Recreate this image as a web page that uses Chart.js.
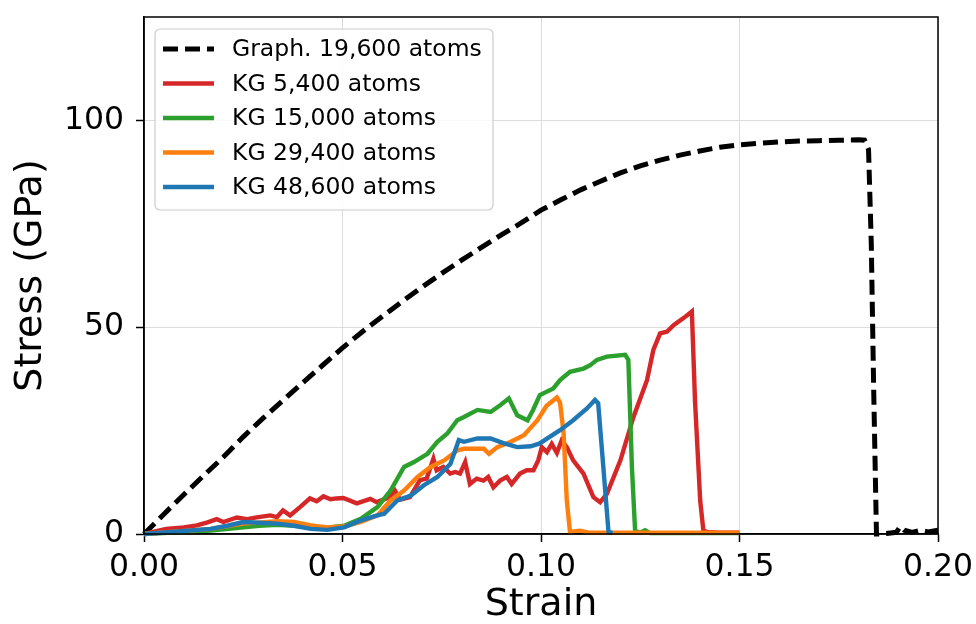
<!DOCTYPE html>
<html>
<head>
<meta charset="utf-8">
<script src="https://cdn.jsdelivr.net/npm/chart.js@4.4.1/dist/chart.umd.min.js"></script>
<style>
  body { margin: 0; background: #fff; }
  #wrap { width: 976px; height: 624px; }
</style>
</head>
<body>
<div id="wrap"><canvas id="stressChart" width="976" height="624"></canvas></div>
<script>
// tick positions
const xTicks = [0, 0.05, 0.10, 0.15, 0.20];
const yTicks = [0, 50, 100];

// Graphene 19,600 atoms
const grStrain = [0, 0.005, 0.01, 0.015, 0.02, 0.025, 0.03, 0.035, 0.04, 0.045, 0.05, 0.055, 0.06, 0.065,
  0.07, 0.075, 0.08, 0.085, 0.09, 0.095, 0.1, 0.105, 0.11, 0.115, 0.12, 0.125, 0.13, 0.135, 0.14, 0.145,
  0.15, 0.155, 0.16, 0.165, 0.17, 0.175, 0.18, 0.1815, 0.1825, 0.1832, 0.1838, 0.1845, 0.187, 0.1895,
  0.1905, 0.1915, 0.1935, 0.1955, 0.1975, 0.2];
const grStress = [0, 4.8, 9.5, 14.1, 18.6, 23.5, 28, 32.3, 36.6, 40.8, 45, 48.9, 52.6, 56.2,
  59.7, 63, 66.2, 69.3, 72.3, 75.2, 78.3, 80.8, 83.2, 85.3, 87.3, 89, 90.4, 91.6, 92.6, 93.5,
  94.1, 94.5, 94.8, 95, 95.1, 95.2, 95.3, 95.2, 93, 70, 35, 0, 0.1, 0.4,
  1.8, 0.9, 0.4, 0.9, 0.5, 0.9];

// KG 5,400 atoms
const kg5Strain = [0, 0.0056, 0.01, 0.0133, 0.016, 0.0183, 0.02, 0.0234, 0.026, 0.0284, 0.0318, 0.0335,
  0.035, 0.0368, 0.0393, 0.0418, 0.0435, 0.0452, 0.047, 0.0485, 0.0502, 0.0536, 0.057, 0.0586, 0.062,
  0.0632, 0.0645, 0.067, 0.0695, 0.0712, 0.0729, 0.0737, 0.0754, 0.0771, 0.0784, 0.0796, 0.0809, 0.0821,
  0.0838, 0.0855, 0.0867, 0.088, 0.0897, 0.0914, 0.0926, 0.0947, 0.0964, 0.0981, 0.0993, 0.1002, 0.1015,
  0.1027, 0.104, 0.1052, 0.1065, 0.1081, 0.1107, 0.1132, 0.1149, 0.1166, 0.12, 0.1233, 0.1267, 0.1283,
  0.13, 0.1317, 0.1334, 0.1359, 0.138, 0.1388, 0.1401, 0.1409, 0.1418, 0.145, 0.15];
const kg5Stress = [0, 1.2, 1.6, 2.1, 2.8, 3.6, 2.9, 4.0, 3.6, 4.0, 4.5, 4.1,
  5.7, 4.5, 6.5, 8.6, 7.9, 9.1, 8.4, 8.6, 8.7, 7.4, 8.5, 7.7, 8.9,
  10.5, 8.3, 8.9, 13.0, 13.4, 18.2, 15.4, 16.2, 14.6, 15.0, 14.6, 17.4, 12.1,
  13.4, 12.9, 13.8, 11.3, 12.9, 13.8, 12.1, 14.6, 15.4, 15.4, 17.8, 21.0, 19.8,
  21.8, 19.6, 22.6, 21.0, 17.8, 14.6, 8.9, 7.7, 9.7, 17.8, 28.3, 37.2, 44.5,
  48.5, 48.9, 50.5, 52.2, 53.8, 32.0, 8.1, 0.8, 0.5, 0.3, 0.3];

// KG 15,000 atoms
const kg15Strain = [0, 0.0084, 0.0168, 0.029, 0.0336, 0.0378, 0.042, 0.0462, 0.0504, 0.0546, 0.0588,
  0.0621, 0.0655, 0.068, 0.0714, 0.0739, 0.0764, 0.0789, 0.0806, 0.084, 0.0873, 0.0898, 0.0919, 0.094,
  0.0966, 0.098, 0.0997, 0.1031, 0.1048, 0.1073, 0.1107, 0.1124, 0.1141, 0.1166, 0.1212, 0.122, 0.1229,
  0.1237, 0.125, 0.1262, 0.1275, 0.15];
const kg15Stress = [0, 0.4, 0.85, 2.0, 2.2, 2.0, 1.65, 1.5, 2.0, 3.7, 6.5,
  10.5, 16.2, 17.4, 19.4, 22.3, 24.3, 27.5, 28.3, 30.0, 29.5, 31.2, 32.8, 28.7,
  27.5, 30.0, 33.6, 35.2, 37.2, 39.2, 40.0, 40.8, 42.1, 42.9, 43.3, 42.1, 16.2,
  0.8, 0.3, 0.9, 0.2, 0.2];

// KG 29,400 atoms
const kg29Strain = [0, 0.0084, 0.0168, 0.025, 0.0336, 0.0378, 0.042, 0.0462, 0.0504, 0.0546, 0.0588,
  0.0621, 0.0655, 0.0689, 0.0722, 0.0756, 0.0789, 0.0806, 0.084, 0.0856, 0.0869, 0.089, 0.0924, 0.0957,
  0.0991, 0.1014, 0.104, 0.1048, 0.1057, 0.1065, 0.1073, 0.1098, 0.112, 0.15];
const kg29Stress = [0, 0.6, 1.25, 2.5, 3.1, 2.9, 2.1, 1.6, 1.8, 2.9, 4.5,
  8.1, 10.5, 13.8, 16.2, 17.8, 20.2, 20.6, 20.6, 20.6, 19.4, 21.0, 22.3, 23.9,
  27.5, 31.0, 33.0, 31.8, 24.3, 8.1, 0.5, 0.8, 0.3, 0.3];

// KG 48,600 atoms
const kg48Strain = [0, 0.0084, 0.0168, 0.021, 0.025, 0.0336, 0.0378, 0.042, 0.0462, 0.0504, 0.0546,
  0.0588, 0.0605, 0.0638, 0.0672, 0.0705, 0.0739, 0.0772, 0.0793, 0.0806, 0.084, 0.0873, 0.0907, 0.094,
  0.0974, 0.0997, 0.1014, 0.1048, 0.1081, 0.1115, 0.1136, 0.1144, 0.1157, 0.117, 0.118];
const kg48Stress = [0, 0.6, 1.25, 2.0, 2.9, 2.5, 2.0, 1.25, 1.0, 1.6, 3.3,
  4.5, 4.9, 8.1, 9.3, 11.8, 13.8, 17.0, 22.7, 22.3, 23.1, 23.1, 21.9, 21.0,
  21.2, 21.9, 23.0, 25.1, 27.5, 30.3, 32.4, 31.6, 16.2, 0.5, 0.2];

const seriesLabels = ['Graph. 19,600 atoms', 'KG 5,400 atoms', 'KG 15,000 atoms', 'KG 29,400 atoms', 'KG 48,600 atoms'];
const seriesColors = ['#000000', '#d62728', '#2ca02c', '#ff7f0e', '#1f77b4'];

function toPoints(xs, ys) {
  return xs.map((x, i) => ({ x: x, y: ys[i] }));
}

const FONT = "'DejaVu Sans', sans-serif";

// matplotlib-style legend box inside the axes
const legendBox = {
  id: 'legendBox',
  afterDraw(chart) {
    const ctx = chart.ctx;
    const area = chart.chartArea;
    const x0 = area.left + 11, y0 = area.top + 12;
    const w = 338, h = 181, rowH = 34.5;
    ctx.save();
    ctx.beginPath();
    ctx.roundRect(x0, y0, w, h, 5);
    ctx.fillStyle = 'rgba(255,255,255,0.85)';
    ctx.fill();
    ctx.strokeStyle = '#cccccc';
    ctx.lineWidth = 1.2;
    ctx.stroke();
    ctx.font = '23.5px ' + FONT;
    ctx.textBaseline = 'middle';
    ctx.fillStyle = '#000';
    chart.data.datasets.forEach((ds, i) => {
      const cy = y0 + 20 + i * rowH;
      ctx.beginPath();
      ctx.setLineDash(ds.borderDash || []);
      ctx.lineWidth = ds.borderWidth;
      ctx.strokeStyle = ds.borderColor;
      ctx.moveTo(x0 + 8, cy);
      ctx.lineTo(x0 + 59, cy);
      ctx.stroke();
      ctx.setLineDash([]);
      ctx.fillText(ds.label, x0 + 77, cy + 1);
    });
    ctx.restore();
  }
};

// full box around the axes
const frame = {
  id: 'frame',
  afterDatasetsDraw(chart) {
    const a = chart.chartArea;
    const ctx = chart.ctx;
    ctx.save();
    ctx.strokeStyle = '#000';
    ctx.lineWidth = 1.5;
    ctx.strokeRect(a.left, a.top, a.right - a.left, a.bottom - a.top);
    ctx.restore();
  }
};

const datasets = [
  { data: toPoints(grStrain, grStress), borderDash: [15, 7], borderWidth: 5, order: 5 },
  { data: toPoints(kg5Strain, kg5Stress), borderWidth: 4.4, order: 4 },
  { data: toPoints(kg15Strain, kg15Stress), borderWidth: 4.4, order: 3 },
  { data: toPoints(kg29Strain, kg29Stress), borderWidth: 4.4, order: 2 },
  { data: toPoints(kg48Strain, kg48Stress), borderWidth: 4.4, order: 1 }
].map((d, i) => Object.assign(d, {
  label: seriesLabels[i],
  borderColor: seriesColors[i],
  backgroundColor: seriesColors[i],
  pointRadius: 0,
  tension: 0,
  fill: false,
  clip: 6
}));

const axisTick = { font: { family: FONT, size: 31.5 }, color: '#000' };
const gridOpts = { color: '#dcdcdc', lineWidth: 1, tickLength: 8, tickColor: '#000', tickWidth: 1.5 };

new Chart(document.getElementById('stressChart'), {
  type: 'line',
  data: { datasets: datasets },
  options: {
    responsive: false,
    animation: false,
    layout: { padding: { top: 17, right: 38, left: 0, bottom: 0 } },
    plugins: { legend: { display: false }, tooltip: { enabled: false } },
    scales: {
      x: {
        type: 'linear',
        min: 0,
        max: 0.2,
        afterBuildTicks: s => { s.ticks = xTicks.map(v => ({ value: v })); },
        afterFit: s => { s.height = 90; s.paddingLeft = 0; s.paddingRight = 0; },
        ticks: Object.assign({ padding: 7, maxRotation: 0, autoSkip: false, callback: v => v.toFixed(2) }, axisTick),
        grid: gridOpts,
        border: { color: '#000', width: 1.5 },
        title: { display: true, text: 'Strain', color: '#000', font: { family: FONT, size: 38, lineHeight: 1.0 }, padding: { top: 0, bottom: 0 } }
      },
      y: {
        type: 'linear',
        min: 0,
        max: 125,
        afterBuildTicks: s => { s.ticks = yTicks.map(v => ({ value: v })); },
        afterFit: s => { s.width = 144; s.paddingTop = 0; s.paddingBottom = 0; },
        ticks: Object.assign({ padding: 12 }, axisTick),
        grid: gridOpts,
        border: { color: '#000', width: 1.5 },
        title: { display: true, text: 'Stress (GPa)', color: '#000', font: { family: FONT, size: 38 }, padding: { top: 8, bottom: 0 } }
      }
    }
  },
  plugins: [frame, legendBox]
});
</script>
</body>
</html>
